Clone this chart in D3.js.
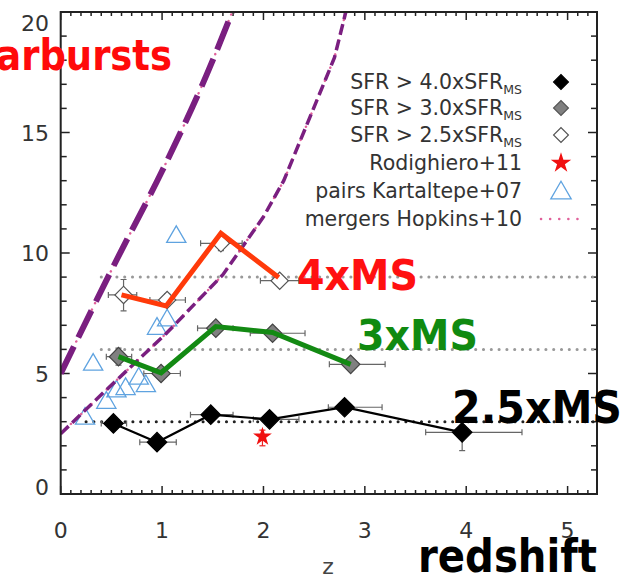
<!DOCTYPE html>
<html>
<head>
<meta charset="utf-8">
<script src="https://cdn.jsdelivr.net/npm/d3@7"></script>
<style>
  body { margin: 0; background: #fff; }
  svg { display: block; }
</style>
</head>
<body>
<svg id="chart" width="629" height="576"></svg>
<script>
// Starburst fraction vs redshift

// SFR > 4.0xSFR_MS (black diamonds)
const blackZ = [0.52, 0.95, 1.48, 2.06, 2.80, 3.96];
const blackV = [2.93, 2.15, 3.29, 3.10, 3.60, 2.56];
const blackZLo = [0.40, 0.78, 1.28, 1.90, 2.64, 3.60];
const blackZHi = [0.65, 1.14, 1.70, 2.35, 3.17, 4.55];
const blackVLo = [2.75, 1.95, 3.10, 2.90, 3.40, 1.80];
const blackVHi = [3.10, 2.35, 3.45, 3.30, 3.80, 3.30];

// SFR > 3.0xSFR_MS (grey diamonds)
const greyZ = [0.57, 0.99, 1.53, 2.09, 2.86];
const greyV = [5.70, 5.00, 6.88, 6.67, 5.38];
const greyZLo = [0.45, 0.82, 1.35, 1.87, 2.65];
const greyZHi = [0.70, 1.18, 1.70, 2.41, 3.20];
const greyVLo = [5.35, 4.80, 6.70, 6.45, 5.20];
const greyVHi = [6.05, 5.20, 7.05, 6.90, 5.55];

// SFR > 2.5xSFR_MS (open diamonds)
const openZ = [0.62, 1.05, 1.58, 2.16];
const openV = [8.26, 8.05, 10.40, 8.85];
const openZLo = [0.47, 0.88, 1.38, 1.97];
const openZHi = [0.75, 1.23, 1.79, 2.35];
const openVLo = [7.60, 7.80, 10.10, 8.70];
const openVHi = [8.90, 8.30, 10.70, 9.00];

// Rodighiero+11
const starZ = [1.99];
const starV = [2.38];
const starVLo = [2.00];
const starVHi = [2.65];

// pairs Kartaltepe+07
const pairsZ = [0.24, 0.45, 0.55, 0.64, 0.77, 0.84, 0.32, 0.95, 1.05, 1.14];
const pairsV = [3.21, 3.87, 4.34, 4.44, 4.87, 4.56, 5.45, 6.94, 7.29, 10.75];

// mergers Hopkins+10 (two model curves)
const hopkinsUpperZ = [0.0, 0.55, 1.0, 1.44, 1.72];
const hopkinsUpperV = [5.0, 9.7, 13.4, 17.4, 20.3];
const hopkinsLowerZ = [0.0, 0.42, 1.05, 1.6, 2.0, 2.2, 2.7, 2.83];
const hopkinsLowerV = [2.5, 4.2, 6.7, 9.1, 11.5, 13.0, 18.1, 20.3];

// hand-drawn annotation lines
const redLineZ = [0.60, 1.04, 1.58, 2.15];
const redLineV = [8.26, 7.80, 10.82, 8.98];
const greenLineZ = [0.57, 0.99, 1.53, 2.09, 2.86];
const greenLineV = [5.70, 5.03, 6.95, 6.70, 5.38];

// reference levels
const levelV = [9, 6, 3];
const levelZStart = [0.40, 0.40, 0.25];
const levelColor = ["#999", "#999", "#222"];

const xTicks = [0, 1, 2, 3, 4, 5];
const yTicks = [0, 5, 10, 15, 20];

const legendLabels = [
  ["SFR > 4.0xSFR", "MS"],
  ["SFR > 3.0xSFR", "MS"],
  ["SFR > 2.5xSFR", "MS"],
  ["Rodighiero+11", ""],
  ["pairs Kartaltepe+07", ""],
  ["mergers Hopkins+10", ""]
];

const purple = "#7a1f80";
const pink = "#e0609a";
const blue = "#5fa3e0";

const svg = d3.select("#chart");
const plotLeft = 60.7, plotRight = 597, plotTop = 12, plotBottom = 494;

const x = d3.scaleLinear().domain([0, 5.29]).range([plotLeft, plotRight]);
const y = d3.scaleLinear().domain([0, 20]).range([plotBottom, plotTop]);

const zip = (a, b) => a.map((d, i) => [d, b[i]]);

svg.append("defs").append("clipPath").attr("id", "plot-clip")
  .append("rect")
  .attr("x", plotLeft).attr("y", plotTop)
  .attr("width", plotRight - plotLeft).attr("height", plotBottom - plotTop);

// Ticks (inward, mirrored on all sides)
const tickG = svg.append("g").attr("stroke", "#222").attr("stroke-width", 1.5);
d3.range(0, 53).forEach(i => {
  const z = i / 10;
  const len = i % 10 === 0 ? 8 : 4;
  tickG.append("line").attr("x1", x(z)).attr("x2", x(z)).attr("y1", plotBottom).attr("y2", plotBottom - len);
  tickG.append("line").attr("x1", x(z)).attr("x2", x(z)).attr("y1", plotTop).attr("y2", plotTop + len);
});
d3.range(0, 21).forEach(v => {
  const len = v % 5 === 0 ? 9 : 6;
  tickG.append("line").attr("y1", y(v)).attr("y2", y(v)).attr("x1", plotLeft).attr("x2", plotLeft + len);
  tickG.append("line").attr("y1", y(v)).attr("y2", y(v)).attr("x1", plotRight).attr("x2", plotRight - len);
});

// Tick labels
svg.append("g").selectAll("text").data(xTicks).join("text")
  .attr("x", d => x(d)).attr("y", 538)
  .attr("text-anchor", "middle")
  .attr("font-family", "DejaVu Sans").attr("font-size", 22).attr("fill", "#333")
  .text(d => d);

svg.append("g").selectAll("text").data(yTicks).join("text")
  .attr("x", 49)
  .attr("y", d => y(d) + 8 + (d === 20 ? 11 : d === 0 ? -7 : 0))
  .attr("text-anchor", "end")
  .attr("font-family", "DejaVu Sans").attr("font-size", 22).attr("fill", "#333")
  .text(d => d);

svg.append("text")
  .attr("x", 328).attr("y", 574)
  .attr("text-anchor", "middle")
  .attr("font-family", "DejaVu Sans").attr("font-size", 22).attr("fill", "#444")
  .text("z");

const plot = svg.append("g").attr("clip-path", "url(#plot-clip)");

// Horizontal reference levels
levelV.forEach((v, i) => {
  plot.append("line")
    .attr("x1", x(levelZStart[i])).attr("x2", plotRight)
    .attr("y1", y(v)).attr("y2", y(v))
    .attr("stroke", levelColor[i]).attr("stroke-width", 3)
    .attr("stroke-linecap", "round")
    .attr("stroke-dasharray", "0.1,7.7");
});

const line = d3.line().x(d => x(d[0])).y(d => y(d[1]));
const smoothLine = d3.line().curve(d3.curveMonotoneX).x(d => x(d[0])).y(d => y(d[1]));

// Kartaltepe pairs
const triangle = d3.symbol().type(d3.symbolTriangle).size(160);
plot.append("g").selectAll("path").data(zip(pairsZ, pairsV)).join("path")
  .attr("transform", d => `translate(${x(d[0])},${y(d[1]) + 2})`)
  .attr("d", triangle)
  .attr("fill", "none").attr("stroke", blue).attr("stroke-width", 1.3);

// Hopkins model curves: pink dots under purple dashes
function hopkinsCurve(zs, vs, width, dash, gen) {
  const pts = zip(zs, vs);
  plot.append("path").datum(pts).attr("d", gen)
    .attr("fill", "none").attr("stroke", pink).attr("stroke-width", 2.5)
    .attr("stroke-linecap", "round").attr("stroke-dasharray", "0.1,7");
  plot.append("path").datum(pts).attr("d", gen)
    .attr("fill", "none").attr("stroke", purple).attr("stroke-width", width)
    .attr("stroke-dasharray", dash);
}
hopkinsCurve(hopkinsUpperZ, hopkinsUpperV, 6, "30,10", smoothLine);
hopkinsCurve(hopkinsLowerZ, hopkinsLowerV, 3.5, "11,5", line);

// Error bars
function errorBars(zs, vs, zLo, zHi, vLo, vHi, color) {
  const g = plot.append("g").attr("stroke", color).attr("stroke-width", 1.2);
  zs.forEach((z, i) => {
    g.append("line").attr("x1", x(zLo[i])).attr("x2", x(zHi[i])).attr("y1", y(vs[i])).attr("y2", y(vs[i]));
    g.append("line").attr("x1", x(zLo[i])).attr("x2", x(zLo[i])).attr("y1", y(vs[i]) - 3).attr("y2", y(vs[i]) + 3);
    g.append("line").attr("x1", x(zHi[i])).attr("x2", x(zHi[i])).attr("y1", y(vs[i]) - 3).attr("y2", y(vs[i]) + 3);
    g.append("line").attr("x1", x(z)).attr("x2", x(z)).attr("y1", y(vLo[i])).attr("y2", y(vHi[i]));
    g.append("line").attr("x1", x(z) - 3).attr("x2", x(z) + 3).attr("y1", y(vLo[i])).attr("y2", y(vLo[i]));
    g.append("line").attr("x1", x(z) - 3).attr("x2", x(z) + 3).attr("y1", y(vHi[i])).attr("y2", y(vHi[i]));
  });
}
errorBars(openZ, openV, openZLo, openZHi, openVLo, openVHi, "#666");
errorBars(greyZ, greyV, greyZLo, greyZHi, greyVLo, greyVHi, "#666");
errorBars(blackZ, blackV, blackZLo, blackZHi, blackVLo, blackVHi, "#666");

function diamonds(zs, vs, fill, stroke, size) {
  plot.append("g").selectAll("path").data(zip(zs, vs)).join("path")
    .attr("transform", d => `translate(${x(d[0])},${y(d[1])}) rotate(45)`)
    .attr("d", d3.symbol().type(d3.symbolSquare).size(size))
    .attr("fill", fill).attr("stroke", stroke).attr("stroke-width", 1.2);
}

diamonds(openZ, openV, "#fff", "#555", 150);
diamonds(greyZ, greyV, "#808080", "#444", 170);

// Black series line
plot.append("path").datum(zip(blackZ, blackV)).attr("d", line)
  .attr("fill", "none").attr("stroke", "#000").attr("stroke-width", 2.2);
diamonds(blackZ, blackV, "#000", "#000", 190);

// Rodighiero star
errorBars(starZ, starV, starZ, starZ, starVLo, starVHi, "#e22");
plot.append("g").selectAll("path").data(zip(starZ, starV)).join("path")
  .attr("transform", d => `translate(${x(d[0])},${y(d[1])})`)
  .attr("d", d3.symbol().type(d3.symbolStar).size(110))
  .attr("fill", "#f01010");

// Hand-drawn lines
plot.append("path").datum(zip(redLineZ, redLineV)).attr("d", line)
  .attr("fill", "none").attr("stroke", "#ff3a0a").attr("stroke-width", 5);
plot.append("path").datum(zip(greenLineZ, greenLineV)).attr("d", line)
  .attr("fill", "none").attr("stroke", "#138a13").attr("stroke-width", 5);

// Legend
const legend = svg.append("g");
const legendY = [82, 108, 135, 163, 191, 219];
legendLabels.forEach((lab, i) => {
  const t = legend.append("text")
    .attr("x", 522).attr("y", legendY[i] + 7)
    .attr("text-anchor", "end")
    .attr("font-family", "DejaVu Sans").attr("font-size", 20.5).attr("fill", "#333");
  t.append("tspan").text(lab[0]);
  if (lab[1]) t.append("tspan").attr("font-size", 12.5).attr("dy", 5).text(lab[1]);
});
const lx = 561;
const legendMarkers = [
  { fill: "#000", stroke: "#000" },
  { fill: "#808080", stroke: "#555" },
  { fill: "#fff", stroke: "#555" }
];
legendMarkers.forEach((m, i) => {
  legend.append("path")
    .attr("transform", `translate(${lx},${legendY[i]}) rotate(45)`)
    .attr("d", d3.symbol().type(d3.symbolSquare).size(110))
    .attr("fill", m.fill).attr("stroke", m.stroke).attr("stroke-width", 1.2);
});
legend.append("path")
  .attr("transform", `translate(${lx},${legendY[3]})`)
  .attr("d", d3.symbol().type(d3.symbolStar).size(130))
  .attr("fill", "#f01010");
legend.append("path")
  .attr("transform", `translate(${lx},${legendY[4] + 2})`)
  .attr("d", d3.symbol().type(d3.symbolTriangle).size(180))
  .attr("fill", "none").attr("stroke", blue).attr("stroke-width", 1.3);
legend.append("line")
  .attr("x1", 541).attr("x2", 580).attr("y1", legendY[5]).attr("y2", legendY[5])
  .attr("stroke", pink).attr("stroke-width", 2.5)
  .attr("stroke-linecap", "round").attr("stroke-dasharray", "0.1,9");

// Frame
svg.append("rect")
  .attr("x", plotLeft).attr("y", plotTop)
  .attr("width", plotRight - plotLeft).attr("height", plotBottom - plotTop)
  .attr("fill", "none").attr("stroke", "#222").attr("stroke-width", 2);

// Annotations
const annFont = "'Comic Sans MS', 'DejaVu Sans', sans-serif";
function annotate(txt, xPos, yPos, len, color, size) {
  svg.append("text")
    .attr("x", xPos).attr("y", yPos)
    .attr("font-family", annFont).attr("font-weight", "bold")
    .attr("font-size", size).attr("fill", color)
    .attr("textLength", len).attr("lengthAdjust", "spacingAndGlyphs")
    .text(txt);
}
annotate("Starbursts", -48, 70, 220, "#ff0a0a", 42);
annotate("4xMS", 297, 290, 121, "#ff1010", 42);
annotate("3xMS", 357, 350, 121, "#108a10", 42);
annotate("2.5xMS", 452, 423, 170, "#000", 44);
annotate("redshift", 418, 572, 179, "#000", 46);
</script>
</body>
</html>
